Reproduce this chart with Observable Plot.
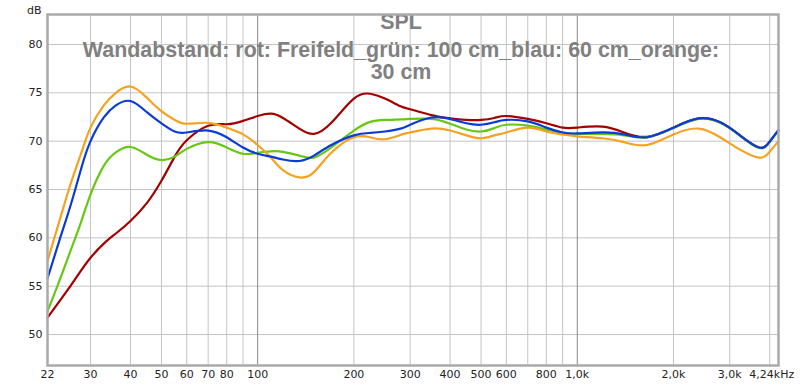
<!DOCTYPE html>
<html><head><meta charset="utf-8">
<script src="https://cdn.jsdelivr.net/npm/d3@7"></script>
<script src="https://cdn.jsdelivr.net/npm/@observablehq/plot@0.6"></script>
<style>body{margin:0;background:#fff} svg{display:block}</style>
</head><body><div id="chart"></div>
<script>
const freqs = [22,24,26,28,30,33,36,40,45,50,55,60,70,80,90,100,110,120,135,150,170,200,225,250,280,300,350,400,450,500,550,600,700,800,900,1000,1200,1400,1650,2000,2400,2800,3200,3700,4000,4262];
const redFreifeld = [51.75,53.45,55.05,56.6,57.95,59.4,60.45,61.75,63.6,65.9,68.4,70.1,71.6,71.75,72.1,72.6,72.85,72.4,71.3,70.75,71.9,74.4,74.9,74.4,73.6,73.3,72.7,72.35,72.2,72.2,72.4,72.6,72.3,71.85,71.4,71.4,71.5,70.9,70.45,71.4,72.35,71.95,70.7,69.35,69.95,71.15];
const green100 = [52.4,55.6,58.7,61.6,64.5,67.45,68.85,69.4,68.6,68.05,68.4,69.2,69.9,69.35,68.7,68.8,68.95,68.9,68.5,68.3,69.35,71.1,72.0,72.2,72.25,72.3,72.3,71.8,71.2,71.0,71.35,71.7,71.6,71.2,70.9,70.75,70.75,70.6,70.4,71.35,72.3,71.9,70.65,69.3,69.9,71.1];
const blue60 = [55.8,59.8,63.4,67.1,70.0,72.45,73.7,74.15,73.0,71.85,71.0,70.9,71.1,70.4,69.35,68.7,68.4,68.1,67.95,68.5,69.6,70.6,70.85,71.0,71.3,71.7,72.45,72.3,71.85,71.7,71.95,72.2,72.05,71.4,70.9,70.8,70.9,70.7,70.4,71.4,72.35,71.95,70.7,69.35,69.95,71.15];
const orange30 = [57.6,61.8,65.6,68.7,71.4,73.7,75.0,75.65,74.5,73.1,72.2,71.8,71.9,71.4,70.7,69.6,68.3,67.0,66.25,66.8,68.8,70.4,70.4,70.2,70.65,70.9,71.3,71.1,70.6,70.3,70.6,70.9,71.4,71.0,70.7,70.5,70.3,69.9,69.6,70.7,71.3,70.4,69.2,68.3,68.9,70.0];

const xTicks = [22,30,40,50,60,70,80,100,200,300,400,500,600,800,1000,2000,3000];
const xTickLabels = ["22","30","40","50","60","70","80","100","200","300","400","500","600","800","1,0k","2,0k","3,0k"];
const xEnd = [{f: 4240, label: "4,24kHz"}];
const xGridMinor = [30,40,50,60,70,80,90,200,300,400,500,600,700,800,900,2000,3000,4000];
const xGridMajor = [100,1000];
const yTicks = [50,55,60,65,70,75,80];
const yUnit = "dB";
const titleLines = ["SPL", "Wandabstand: rot: Freifeld_grün: 100 cm_blau: 60 cm_orange:", "30 cm"];

const series = [
  {values: redFreifeld, color: "#a30000"},
  {values: green100, color: "#66c814"},
  {values: orange30, color: "#f4a21f"},
  {values: blue60, color: "#0b3bd6"}
];

const lineMarks = series.map(s => Plot.line(freqs.map((f, i) => ({f, db: s.values[i]})), {
  x: "f", y: "db", stroke: s.color, strokeWidth: 2.2, curve: "natural"
}));

const titleMarks = titleLines.map((t, i) => Plot.text([t], {
  frameAnchor: "top", lineAnchor: "middle", dx: -12, dy: [8, 36, 58][i], text: d => d,
  fontFamily: "Liberation Sans", fontWeight: "bold", fontSize: 21.4, fill: "#808080"
}));

const chart = Plot.plot({
  width: 800, height: 387,
  marginTop: 14, marginRight: 22, marginBottom: 22, marginLeft: 47,
  x: {type: "log", domain: [22, 4262], axis: null},
  y: {domain: [46.8, 83.1], axis: null},
  style: {fontFamily: "DejaVu Sans", fontSize: "11px", color: "#222", background: "#fff"},
  marks: [
    Plot.ruleY(yTicks, {stroke: "#c4c4c4", strokeWidth: 1}),
    Plot.ruleX(xGridMinor, {stroke: "#c4c4c4", strokeWidth: 1}),
    Plot.ruleX(xGridMajor, {stroke: "#888", strokeWidth: 1}),
    ...titleMarks,
    ...lineMarks,
    Plot.frame({stroke: "#aaaaaa", strokeWidth: 2.5}),
    Plot.text(yTicks, {y: d => d, text: d => String(d), frameAnchor: "left", dx: -5, textAnchor: "end", fill: "#222"}),
    Plot.text(xTicks, {x: d => d, text: (d, i) => xTickLabels[i], frameAnchor: "bottom", dy: 12, fill: "#222"}),
    Plot.text(xEnd, {x: "f", text: "label", frameAnchor: "bottom", dy: 12, dx: -6, fill: "#222"}),
    Plot.text([yUnit], {text: d => d, frameAnchor: "top-left", dx: -6, dy: -8, textAnchor: "end", fill: "#222"})
  ]
});
document.getElementById("chart").appendChild(chart);
</script>
</body></html>
